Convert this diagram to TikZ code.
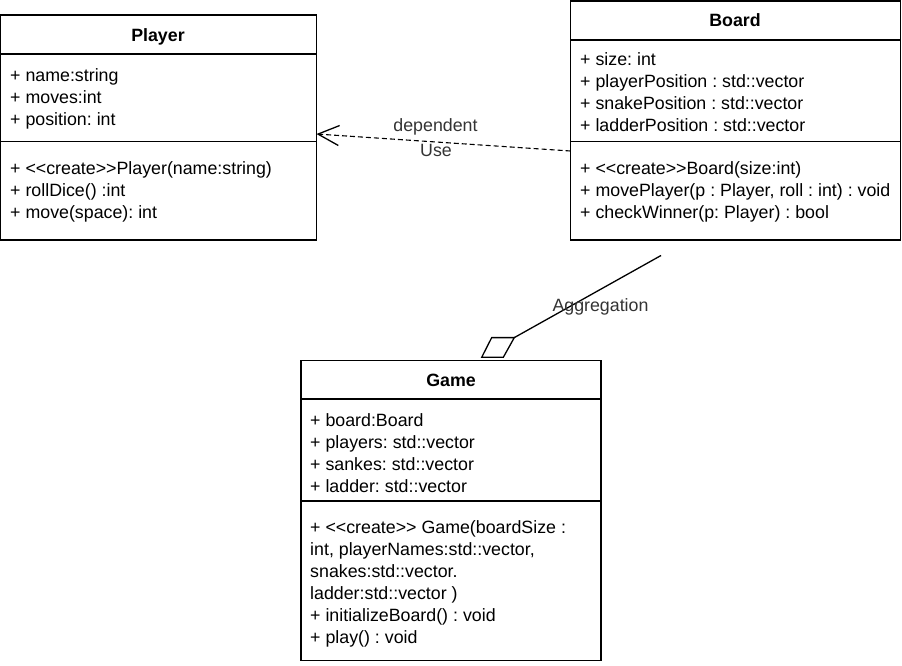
\documentclass[tikz,border=0pt]{standalone}
\usepackage{fontspec}
\setmainfont{Liberation Sans}
\usetikzlibrary{arrows.meta}
\frenchspacing
\begin{document}
\frenchspacing
\begin{tikzpicture}[x=1pt,y=-1pt,
  classbox/.style={draw, line width=1.3pt, anchor=north west, inner sep=0pt, outer sep=0pt},
  divider/.style={line width=1.3pt},
  member/.style={anchor=west, inner sep=0pt, text height=12.9pt, text depth=0pt,
    font=\fontsize{17.8}{21.4}\selectfont},
  classtitle/.style={inner sep=0pt, text height=12.9pt, text depth=0pt,
    font=\fontsize{17.8}{21.4}\selectfont\bfseries},
  edgelabel/.style={inner sep=0pt, text height=12.9pt, text depth=0pt, text=black!80,
    font=\fontsize{17.8}{21.4}\selectfont},
  deparrow/.style={line width=1.1pt, dash pattern=on 5pt off 3pt,
    -{Straight Barb[length=21pt,width=20pt,line width=1.3pt]}},
  aggline/.style={line width=1.3pt, line join=miter}
]
\useasboundingbox (0,0) rectangle (902,666);

% ---------- Player ----------
\node[classbox, minimum width=316pt, minimum height=225pt] (player) at (0.5,15) {};
\draw[divider] (player.west |- 0,54) -- (player.east |- 0,54);
\draw[divider] (player.west |- 0,141.5) -- (player.east |- 0,141.5);
\node[classtitle] (playerT) at (158,35) {Player};
\node[member] (p1) at (10,75) {+ name:string};
\node[member] (p2) at (10,97) {+ moves:int};
\node[member] (p3) at (10,119) {+ position: int};
\node[member] (p4) at (10,168) {+ <{}<create>{}>Player(name:string)};
\node[member] (p5) at (10,190) {+ rollDice() :int};
\node[member] (p6) at (10,212) {+ move(space): int};

% ---------- Board ----------
\node[classbox, minimum width=330pt, minimum height=239pt] (board) at (570.5,1) {};
\draw[divider] (board.west |- 0,40) -- (board.east |- 0,40);
\draw[divider] (board.west |- 0,141.5) -- (board.east |- 0,141.5);
\node[classtitle] (boardT) at (735,20.5) {Board};
\node[member] (b1) at (580,59.5) {+ size: int};
\node[member] (b2) at (580,81.5) {+ playerPosition : std::vector};
\node[member] (b3) at (580,103.5) {+ snakePosition : std::vector};
\node[member] (b4) at (580,125.5) {+ ladderPosition : std::vector};
\node[member] (b5) at (580,168) {+ <{}<create>{}>Board(size:int)};
\node[member] (b6) at (580,190) {+ movePlayer(p : Player, roll : int) : void};
\node[member] (b7) at (580,212) {+ checkWinner(p: Player) : bool};

% ---------- Game ----------
\node[classbox, minimum width=300pt, minimum height=300pt] (game) at (301,360.5) {};
\draw[divider] (game.west |- 0,399) -- (game.east |- 0,399);
\draw[divider] (game.west |- 0,501) -- (game.east |- 0,501);
\node[classtitle] (gameT) at (451,380.5) {Game};
\node[member] (g1) at (310,420) {+ board:Board};
\node[member] (g2) at (310,442) {+ players: std::vector};
\node[member] (g3) at (310,464) {+ sankes: std::vector};
\node[member] (g4) at (310,486) {+ ladder: std::vector};
\node[member] (g5) at (310,527) {+ <{}<create>{}> Game(boardSize :};
\node[member] (g6) at (310,549) {int, playerNames:std::vector,};
\node[member] (g7) at (310,571.5) {snakes:std::vector.};
\node[member] (g8) at (310,593.5) {ladder:std::vector )};
\node[member] (g9) at (310,615) {+ initializeBoard() : void};
\node[member] (g10) at (310,637) {+ play() : void};

% ---------- Dependency (Board -> Player) ----------
\coordinate (depS) at (board.west |- 0,151);
\coordinate (depE) at (player.east |- 0,134);
\draw[deparrow] (depS) -- (depE);
\node[edgelabel] (depL1) at (435.5,125) {dependent};
\node[edgelabel] (depL2) at (436,150.5) {Use};

% ---------- Aggregation (Game <>-- Board) ----------
\coordinate (aggS) at (661,255.5);
\coordinate (dA) at (514.3,337.6);
\coordinate (dB) at (491.7,337.6);
\coordinate (dC) at (481.7,357.3);
\coordinate (dD) at (503.3,357.3);
\draw[aggline] (dA) -- (dB) -- (dC) -- (dD) -- cycle;
\draw[aggline] (aggS) -- (dA);
\node[edgelabel] (aggL) at (600.5,305) {Aggregation};
\end{tikzpicture}
\end{document}
